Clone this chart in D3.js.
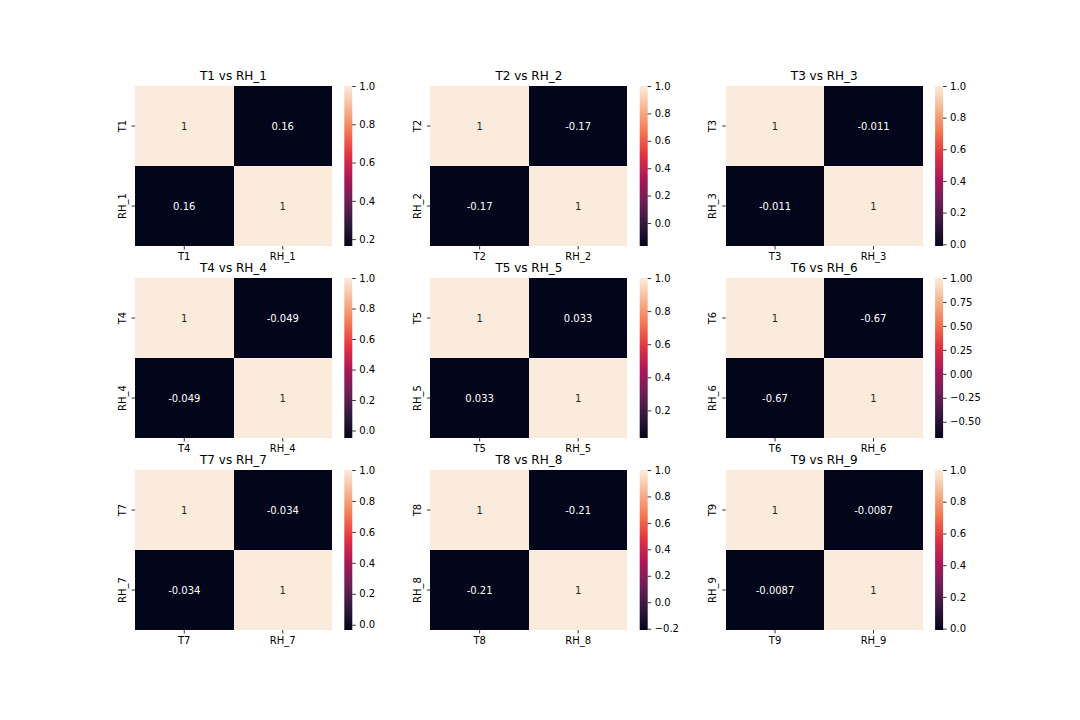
<!DOCTYPE html>
<html>
<head>
<meta charset="utf-8">
<script src="https://cdn.jsdelivr.net/npm/d3@7"></script>
<style>
  body { margin: 0; background: #ffffff; }
  svg { display: block; font-family: "DejaVu Sans", sans-serif; }
</style>
</head>
<body>
<div class="heatmaps"></div>
<script>
// temperature / humidity pairs, one panel each
var tNames = ["T1", "T2", "T3", "T4", "T5", "T6", "T7", "T8", "T9"];
var rhNames = ["RH_1", "RH_2", "RH_3", "RH_4", "RH_5", "RH_6", "RH_7", "RH_8", "RH_9"];
var corrValues = [0.164, -0.168, -0.011, -0.049, 0.033, -0.67, -0.034, -0.21, -0.0087];

// colorbar ticks per panel
var cbarTicks = [
  [0.2, 0.4, 0.6, 0.8, 1.0],
  [0.0, 0.2, 0.4, 0.6, 0.8, 1.0],
  [0.0, 0.2, 0.4, 0.6, 0.8, 1.0],
  [0.0, 0.2, 0.4, 0.6, 0.8, 1.0],
  [0.2, 0.4, 0.6, 0.8, 1.0],
  [-0.5, -0.25, 0.0, 0.25, 0.5, 0.75, 1.0],
  [0.0, 0.2, 0.4, 0.6, 0.8, 1.0],
  [-0.2, 0.0, 0.2, 0.4, 0.6, 0.8, 1.0],
  [0.0, 0.2, 0.4, 0.6, 0.8, 1.0],
];
var cbarDecimals = [1, 1, 1, 1, 1, 2, 1, 1, 1];

// rocket colormap samples
var rocketStops = [0, 1 / 7, 2 / 7, 3 / 7, 4 / 7, 5 / 7, 6 / 7, 1];
var rocketColors = ["#03051a", "#35193e", "#701f57", "#ad1759", "#e13342", "#f37651", "#f6b48f", "#faebdd"];

var width = 1080,
  height = 720;

var svg = d3
  .select(".heatmaps")
  .append("svg")
  .attr("width", width)
  .attr("height", height);

// shared vertical gradient for the colorbars
var grad = svg
  .append("defs")
  .append("linearGradient")
  .attr("id", "rocket")
  .attr("x1", 0)
  .attr("y1", 1)
  .attr("x2", 0)
  .attr("y2", 0);
grad
  .selectAll("stop")
  .data(rocketStops)
  .enter()
  .append("stop")
  .attr("offset", (d) => d * 100 + "%")
  .attr("stop-color", (d, i) => rocketColors[i]);

var panelW = 197,
  panelH = 160,
  colStep = 295.4,
  rowStep = 192;
var annotFmt = d3.formatLocale({ decimal: ".", thousands: ",", grouping: [3], currency: ["", ""], minus: "-" }).format(".2~g");

tNames.forEach(function (t, i) {
  var rh = rhNames[i];
  var r = corrValues[i];
  var left = 135 + (i % 3) * colStep;
  var top = 86 + Math.floor(i / 3) * rowStep;
  var vmin = Math.min(r, 1),
    vmax = 1;

  var names = [t, rh];
  var cells = [
    { row: t, col: t, v: 1 },
    { row: t, col: rh, v: r },
    { row: rh, col: t, v: r },
    { row: rh, col: rh, v: 1 },
  ];

  var x = d3.scaleBand().domain(names).range([left, left + panelW]);
  var y = d3.scaleBand().domain(names).range([top, top + panelH]);
  var color = d3
    .scaleLinear()
    .domain(rocketStops.map((p) => vmin + p * (vmax - vmin)))
    .range(rocketColors);

  var g = svg.append("g").attr("class", "panel");

  g.selectAll("rect.cell")
    .data(cells)
    .enter()
    .append("rect")
    .attr("class", "cell")
    .attr("x", (d) => x(d.col))
    .attr("y", (d) => y(d.row))
    .attr("width", x.bandwidth())
    .attr("height", y.bandwidth())
    .attr("shape-rendering", "crispEdges")
    .style("fill", (d) => color(d.v));

  // annotations: dark text on light cells, white on dark
  g.selectAll("text.annot")
    .data(cells)
    .enter()
    .append("text")
    .attr("class", "annot")
    .attr("x", (d) => x(d.col) + x.bandwidth() / 2)
    .attr("y", (d) => y(d.row) + y.bandwidth() / 2)
    .attr("dy", "0.36em")
    .attr("text-anchor", "middle")
    .style("font-size", "10px")
    .style("fill", (d) => (d.v > vmin + 0.5 * (vmax - vmin) ? "#262626" : "#ffffff"))
    .text((d) => annotFmt(d.v));

  // x axis
  var xAxis = g
    .append("g")
    .attr("transform", "translate(0," + (top + panelH) + ")")
    .call(d3.axisBottom(x).tickSize(3.5).tickPadding(3.5));
  xAxis.select(".domain").remove();
  xAxis.selectAll("line").attr("stroke", "#000").attr("stroke-width", 0.8);
  xAxis.selectAll("text").style("font-size", "10px").style("font-family", "DejaVu Sans").attr("fill", "#000").attr("dy", "0.73em");

  // y axis, labels rotated
  var yAxis = g
    .append("g")
    .attr("transform", "translate(" + left + ",0)")
    .call(d3.axisLeft(y).tickSize(3.5).tickPadding(3.5));
  yAxis.select(".domain").remove();
  yAxis.selectAll("line").attr("stroke", "#000").attr("stroke-width", 0.8);
  yAxis
    .selectAll("text")
    .style("font-size", "10px")
    .style("font-family", "DejaVu Sans")
    .attr("fill", "#000")
    .attr("x", null)
    .attr("dy", null)
    .attr("text-anchor", "middle")
    .attr("transform", "translate(-9.4,0) rotate(-90)");

  // title
  g.append("text")
    .attr("x", left + panelW / 2)
    .attr("y", top - 6)
    .attr("text-anchor", "middle")
    .style("font-size", "12px")
    .style("fill", "#000")
    .text(t + " vs " + rh);

  // colorbar
  var cbX = left + panelW + 12.3,
    cbW = 8;
  var cbScale = d3.scaleLinear().domain([vmin, vmax]).range([top + panelH, top]);
  g.append("rect")
    .attr("x", cbX)
    .attr("y", top)
    .attr("width", cbW)
    .attr("height", panelH)
    .style("fill", "url(#rocket)");

  var cbAxis = g
    .append("g")
    .attr("transform", "translate(" + (cbX + cbW) + ",0)")
    .call(
      d3
        .axisRight(cbScale)
        .tickValues(cbarTicks[i])
        .tickSize(3.5)
        .tickPadding(3.5)
        .tickFormat(d3.format("." + cbarDecimals[i] + "f"))
    );
  cbAxis.select(".domain").remove();
  cbAxis.selectAll("line").attr("stroke", "#000").attr("stroke-width", 0.8);
  cbAxis.selectAll("text").style("font-size", "10px").style("font-family", "DejaVu Sans").attr("fill", "#000");
});
</script>
</body>
</html>
